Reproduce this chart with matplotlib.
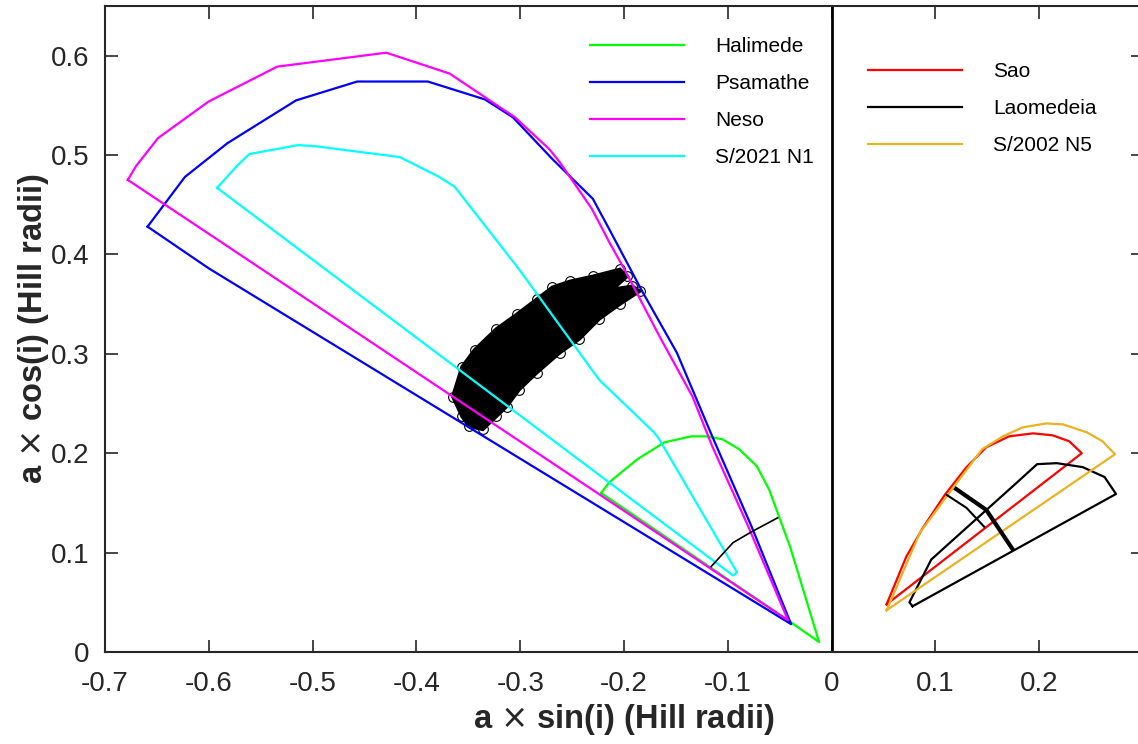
import numpy as np
import matplotlib
matplotlib.use('Agg')
import matplotlib.pyplot as plt

plt.rcParams['font.family'] = ['Liberation Sans', 'DejaVu Sans']

# stability regions, a*sin(i) vs a*cos(i) in Hill radii
halimede_x = [-0.222, -0.214, -0.187, -0.161, -0.135, -0.121, -0.105, -0.089, -0.072, -0.060, -0.040, -0.012, -0.038]
halimede_y = [0.160, 0.171, 0.194, 0.211, 0.217, 0.217, 0.214, 0.204, 0.187, 0.163, 0.106, 0.010, 0.029]

psamathe_x = [-0.659, -0.623, -0.582, -0.516, -0.457, -0.389, -0.334, -0.307, -0.269, -0.230, -0.214,
              -0.182, -0.149, -0.115, -0.077, -0.039, -0.600]
psamathe_y = [0.428, 0.478, 0.512, 0.555, 0.574, 0.574, 0.556, 0.538, 0.496, 0.456, 0.425,
              0.362, 0.301, 0.217, 0.126, 0.028, 0.386]

neso_x = [-0.678, -0.670, -0.649, -0.600, -0.534, -0.429, -0.368, -0.305, -0.272, -0.262, -0.231,
          -0.214, -0.198, -0.166, -0.134, -0.115, -0.081, -0.042, -0.596]
neso_y = [0.475, 0.489, 0.517, 0.554, 0.589, 0.603, 0.582, 0.538, 0.506, 0.493, 0.446,
          0.412, 0.382, 0.318, 0.257, 0.207, 0.128, 0.032, 0.418]

n1_x = [-0.592, -0.573, -0.561, -0.514, -0.498, -0.416, -0.378, -0.363, -0.301, -0.224, -0.171,
        -0.166, -0.091, -0.095]
n1_y = [0.467, 0.489, 0.501, 0.510, 0.509, 0.498, 0.478, 0.468, 0.385, 0.274, 0.221,
        0.214, 0.080, 0.077]

sao_x = [0.053, 0.072, 0.088, 0.109, 0.130, 0.149, 0.171, 0.194, 0.213, 0.229, 0.241]
sao_y = [0.048, 0.096, 0.125, 0.158, 0.186, 0.206, 0.217, 0.220, 0.218, 0.212, 0.200]

laomedeia_x = [0.078, 0.075, 0.096, 0.114, 0.146, 0.178, 0.198, 0.217, 0.242, 0.263, 0.274]
laomedeia_y = [0.046, 0.050, 0.093, 0.110, 0.140, 0.170, 0.189, 0.190, 0.186, 0.176, 0.159]

n5_x = [0.053, 0.085, 0.114, 0.145, 0.165, 0.184, 0.207, 0.223, 0.246, 0.261, 0.273]
n5_y = [0.042, 0.120, 0.161, 0.204, 0.217, 0.226, 0.230, 0.229, 0.221, 0.212, 0.199]

# cloud of simulated orbits (outline of the black band)
blob_x = [-0.365, -0.356, -0.344, -0.323, -0.303, -0.284, -0.269, -0.252, -0.230, -0.204, -0.197,
          -0.211, -0.192, -0.185, -0.204, -0.224, -0.243, -0.262, -0.284, -0.301, -0.313, -0.323,
          -0.336, -0.349, -0.356]
blob_y = [0.257, 0.287, 0.304, 0.325, 0.340, 0.355, 0.367, 0.373, 0.378, 0.385, 0.378,
          0.365, 0.368, 0.363, 0.350, 0.335, 0.315, 0.301, 0.281, 0.264, 0.247, 0.237,
          0.224, 0.227, 0.237]

# short black arcs
arc1_x = [-0.116, -0.095, -0.077, -0.052]
arc1_y = [0.086, 0.110, 0.121, 0.135]
arc2_x = [0.120, 0.149, 0.174]
arc2_y = [0.164, 0.143, 0.104]
arc3_x = [0.111, 0.130, 0.147]
arc3_y = [0.158, 0.145, 0.126]

orange = (0.929, 0.694, 0.125)


def closed(v):
    return np.append(v, v[0])


fig = plt.figure(figsize=(11.38, 7.44), dpi=100)
ax = fig.add_axes([105 / 1138, 92 / 744, 1038 / 1138, 646 / 744])

ax.fill(blob_x, blob_y, facecolor='k', edgecolor='k', lw=2.5)
ax.plot(blob_x, blob_y, 'o', mfc='none', mec='k', ms=7, mew=0.8)

h1, = ax.plot(closed(halimede_x), closed(halimede_y), color=(0, 1, 0), lw=1.6, label='Halimede')
h2, = ax.plot(closed(psamathe_x), closed(psamathe_y), color=(0, 0, 1), lw=1.6, label='Psamathe')
h3, = ax.plot(closed(neso_x), closed(neso_y), color=(1, 0, 1), lw=1.6, label='Neso')
h4, = ax.plot(closed(n1_x), closed(n1_y), color=(0, 1, 1), lw=1.6, label='S/2021 N1')

g1, = ax.plot(closed(sao_x), closed(sao_y), color=(1, 0, 0), lw=1.6, label='Sao')
g2, = ax.plot(closed(laomedeia_x), closed(laomedeia_y), color='k', lw=1.6, label='Laomedeia')
g3, = ax.plot(closed(n5_x), closed(n5_y), color=orange, lw=1.6, label='S/2002 N5')

ax.plot(arc1_x, arc1_y, color='k', lw=1.2)
ax.plot(arc2_x, arc2_y, color='k', lw=3)
ax.plot(arc3_x, arc3_y, color='k', lw=1.5)

ax.axvline(0, color='k', lw=2)

ax.set_xlim(-0.7, 0.3)
ax.set_ylim(0, 0.65)
ax.set_xticks([-0.7, -0.6, -0.5, -0.4, -0.3, -0.2, -0.1, 0, 0.1, 0.2])
ax.set_xticklabels(['-0.7', '-0.6', '-0.5', '-0.4', '-0.3', '-0.2', '-0.1', '0', '0.1', '0.2'])
ax.set_yticks([0, 0.1, 0.2, 0.3, 0.4, 0.5, 0.6])
ax.set_yticklabels(['0', '0.1', '0.2', '0.3', '0.4', '0.5', '0.6'])
ax.tick_params(direction='in', length=9, width=1.2, top=True, right=True,
               labelsize=20, colors='#262626')
ax.tick_params(axis='x', pad=14)
ax.tick_params(axis='y', pad=11)
for s in ax.spines.values():
    s.set_color('#262626')
    s.set_linewidth(1.5)

ax.set_xlabel(r'a $\times$ sin(i) (Hill radii)', fontsize=23.5, fontweight='bold', color='#262626', labelpad=3)
ax.set_ylabel(r'a $\times$ cos(i) (Hill radii)', fontsize=23.5, fontweight='bold', color='#262626', labelpad=0)

leg_kw = dict(frameon=False, fontsize=15, handlelength=4.5, handletextpad=1.5,
              labelspacing=0.87, borderpad=0, borderaxespad=0, loc='upper left',
              bbox_transform=fig.transFigure)
leg1 = ax.legend(handles=[h1, h2, h3, h4], bbox_to_anchor=(590 / 1138, 1 - 37 / 744), **leg_kw)
ax.add_artist(leg1)
ax.legend(handles=[g1, g2, g3], bbox_to_anchor=(868 / 1138, 1 - 62 / 744), **leg_kw)

fig.savefig('out.png', dpi=100)
